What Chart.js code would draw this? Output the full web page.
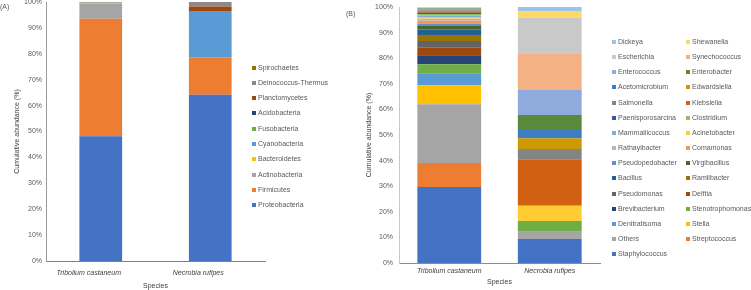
<!DOCTYPE html>
<html>
<head>
<meta charset="utf-8">
<script src="https://cdn.jsdelivr.net/npm/chart.js@4/dist/chart.umd.min.js"></script>
<style>
  html, body { margin: 0; padding: 0; background: #fff; }
  #wrap { position: relative; width: 751px; height: 290px; overflow: hidden; font-family: "Liberation Sans", Arial, sans-serif; color: #595959; }
  canvas { position: absolute; left: 0; top: 0; }
  .lg { position: absolute; font-size: 7px; line-height: 8px; white-space: nowrap; }
  .lg i { position: absolute; left: -6px; top: 2px; width: 4px; height: 4px; }
  .tag { position: absolute; font-size: 7px; line-height: 8px; }
</style>
</head>
<body>
<div id="wrap">
  <canvas id="ca" width="751" height="290"></canvas>
  <canvas id="cb" width="751" height="290"></canvas>
  <div class="tag" style="left:0px;top:3px;">(A)</div>
  <div class="tag" style="left:346px;top:10px;">(B)</div>
</div>
<script>
// ---------- DATA ----------
const species = ['Tribolium castaneum', 'Necrobia rufipes'];
const yTickValues = [0, 10, 20, 30, 40, 50, 60, 70, 80, 90, 100];

// Panel A (phyla, stacking order bottom -> top)
const phylaA = ['Proteobacteria', 'Firmicutes', 'Actinobacteria', 'Bacteroidetes', 'Cyanobacteria',
  'Fusobacteria', 'Acidobacteria', 'Planctomycetes', 'Deinococcus-Thermus', 'Spirochaetes'];
const triboliumA = [48.2, 45.3, 5.7, 0.4, 0.1, 0.1, 0.05, 0.05, 0.05, 0.05];
const necrobiaA  = [64.2, 14.5, 0, 0, 17.8, 0, 0, 1.8, 1.7, 0];

// Panel B (genera, stacking order bottom -> top)
const generaB = ['Staphylococcus', 'Streptococcus', 'Others', 'Stella', 'Denitratisoma', 'Stenotrophomonas',
  'Brevibacterium', 'Delftia', 'Pseudomonas', 'Ramlibacter', 'Bacillus', 'Virgibacillus',
  'Pseudopedobacter', 'Comamonas', 'Rathayibacter', 'Acinetobacter', 'Mammaliicoccus', 'Clostridium',
  'Paenisporosarcina', 'Klebsiella', 'Salmonella', 'Edwardsiella', 'Acetomicrobium', 'Enterobacter',
  'Enterococcus', 'Synechococcus', 'Escherichia', 'Shewanella', 'Dickeya'];
const triboliumB = [29.7, 9.4, 22.9, 7.4, 4.7, 3.5, 3.6, 2.9, 2.6, 2.4, 2.1, 1.4,
  1.0, 1.0, 0.8, 0.7, 0.6, 0.6, 0.5, 0.5, 0.4, 0.3, 0.2, 0.2, 0.2, 0.1, 0.2, 0.05, 0.05];
const necrobiaB = [9.4, 0, 2.8, 0, 0, 4.2, 0, 0, 0, 0, 0, 0,
  0, 0, 0, 6.0, 0, 0, 0, 18.1, 4.0, 4.2, 3.3, 5.8, 9.8, 14.3, 14.0, 2.3, 1.8];

// ---------- STYLES ----------
const paletteA = ['#4472C4', '#ED7D31', '#A5A5A5', '#FFC000', '#5B9BD5', '#70AD47', '#264478', '#9E480E', '#8a8a8a', '#997300'];
const paletteB = ['#4472C4', '#ED7D31', '#A5A5A5', '#FFC000', '#5B9BD5', '#70AD47', '#264478', '#9E480E', '#636363',
  '#997300', '#255E91', '#43682B', '#698ED0', '#F1975A', '#B7B7B7', '#FFCD33', '#7CAFDD', '#8CC168',
  '#335AA1', '#D26012', '#848484', '#CC9A00', '#3C7DC4', '#5A8A39', '#8FAADC', '#F4B183', '#C9C9C9', '#FFD966', '#9DC3E6'];

Chart.defaults.font.family = '"Liberation Sans", Arial, sans-serif';
Chart.defaults.font.size = 7;
Chart.defaults.color = '#595959';

function makeChart(id, names, v1, v2, colors, cfg) {
  const datasets = names.map((n, i) => ({
    label: n,
    data: [v1[i], v2[i]],
    backgroundColor: colors[i],
    borderWidth: 0,
    barPercentage: cfg.barPct,
    categoryPercentage: 1.0
  }));
  return new Chart(document.getElementById(id), {
    type: 'bar',
    data: { labels: species, datasets },
    options: {
      responsive: false,
      animation: false,
      devicePixelRatio: 1,
      layout: { padding: cfg.pad },
      plugins: { legend: { display: false }, tooltip: { enabled: false } },
      scales: {
        x: {
          stacked: true,
          grid: { display: false, drawTicks: false },
          border: { display: true, color: cfg.xLine, width: 1 },
          ticks: { padding: cfg.xTickPad, labelOffset: cfg.xLabelOffset, font: { style: 'italic', size: 7 }, color: '#404040', maxRotation: 0 },
          title: { display: true, text: 'Species', font: { size: 7 }, color: '#404040', padding: { top: 0, bottom: cfg.xTitlePad } },
          afterFit: s => { s.height = cfg.xH; s.paddingLeft = 0; s.paddingRight = 0; }
        },
        y: {
          stacked: true,
          min: 0, max: 100,
          afterBuildTicks: s => { s.ticks = yTickValues.map(v => ({ value: v })); },
          grid: { display: false, drawTicks: false },
          border: { display: true, color: cfg.yLine, width: 1 },
          ticks: { padding: cfg.yTickPad, callback: v => v + '%', color: '#595959' },
          title: { display: true, text: 'Cumulative abundance (%)', font: { size: 7 }, color: '#404040', padding: { top: cfg.yTitlePad, bottom: 0 } },
          afterFit: s => { s.width = cfg.yW; s.paddingTop = 0; s.paddingBottom = 0; }
        }
      }
    }
  });
}

makeChart('ca', phylaA, triboliumA, necrobiaA, paletteA, {
  barPct: 0.39,
  pad: { left: 0, top: 2, right: 751 - 265, bottom: 0 },
  xH: 29, yW: 46, xTickPad: 8, xLabelOffset: -12, xTitlePad: 0, yTickPad: 4, yTitlePad: 13,
  xLine: '#7f7f7f', yLine: '#9a9a9a'
});
makeChart('cb', generaB, triboliumB, necrobiaB, paletteB, {
  barPct: 0.635,
  pad: { left: 355, top: 7, right: 751 - 600, bottom: 0 },
  xH: 27, yW: 44, xTickPad: 4, xLabelOffset: 0, xTitlePad: 4, yTickPad: 6, yTitlePad: 10,
  xLine: '#8c8c8c', yLine: '#c8c8c8'
});

// ---------- HTML legends (reverse of stacking order, as in the reference) ----------
const wrap = document.getElementById('wrap');
function addItem(name, color, x, yc) {
  const d = document.createElement('div');
  d.className = 'lg';
  d.style.left = x + 'px';
  d.style.top = (yc - 4) + 'px';
  const m = document.createElement('i');
  m.style.background = color;
  d.appendChild(m);
  d.appendChild(document.createTextNode(name));
  wrap.appendChild(d);
}
phylaA.map((n, i) => i).reverse().forEach((i, k) => {
  addItem(phylaA[i], paletteA[i], 258, 67.7 + k * 15.26);
});
generaB.map((n, i) => i).reverse().forEach((i, k) => {
  const col = k % 2, row = Math.floor(k / 2);
  addItem(generaB[i], paletteB[i], col === 0 ? 618 : 692, 42 + row * 15.16);
});
</script>
</body>
</html>
